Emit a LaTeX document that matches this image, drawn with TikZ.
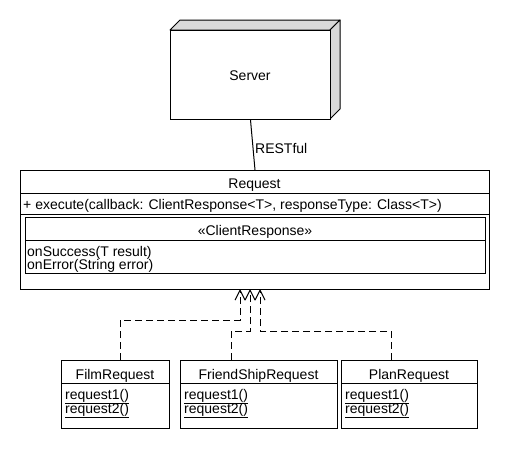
\documentclass[tikz,border=0pt]{standalone}
\usepackage{fontspec}
\setmainfont{Liberation Sans}
\usetikzlibrary{arrows.meta,calc}
\begin{document}
\begin{tikzpicture}[x=1pt,y=-1pt,
  font=\fontsize{14}{16}\selectfont,
  box/.style={draw, line width=1pt, inner sep=0pt, anchor=north west},
  sep/.style={line width=1pt},
  txt/.style={inner sep=0pt, anchor=base},
  ltxt/.style={inner sep=0pt, anchor=base west},
  shade/.style={draw, line width=1pt, fill=gray!30, line join=round},
  real/.style={dash pattern=on 7pt off 4pt, line width=1pt, -{Straight Barb[length=10pt,width=10pt,line width=1pt]}}
]
\useasboundingbox (0,0) rectangle (510,450);
% Server
\draw[shade] (170,30) -- (180,20) -- (340,20) -- (330,30) -- cycle;
\draw[shade] (330,30) -- (340,20) -- (340,109) -- (330,119) -- cycle;
\node[box, minimum width=160pt, minimum height=89pt, fill=white] (server) at (170,30) {};
\node[txt] (servert) at (250,80) {Server};
% Request
\node[box, minimum width=469pt, minimum height=119pt] (req) at (20,170) {};
\draw[sep] (20,193) -- (489,193);
\draw[sep] (20,214) -- (489,214);
\node[txt] (reqt) at (254.5,188) {Request};
\node[ltxt] (exec) at (23,209) {+ execute(callback: ClientResponse<T>, responseType: Class<T>)};
\node[box, minimum width=460pt, minimum height=56pt] (cr) at (25,217) {};
\draw[sep] (25,240) -- (485,240);
\node[txt] (crt) at (255,235) {«ClientResponse»};
\node[ltxt] (ons) at (27,256) {onSuccess(T result)};
\node[ltxt] (one) at (27,269) {onError(String error)};
% link
\draw[sep] (server.south) -- (req.north);
\node[ltxt] (rest) at (255,153) {RESTful};
% subclasses
\node[box, minimum width=108pt, minimum height=68pt] (film) at (61,360) {};
\draw[sep] (61,383) -- (169,383);
\node[txt] (filmt) at (115,379) {FilmRequest};
\node[ltxt] (f1) at (65,399) {\underline{request1()}};
\node[ltxt] (f2) at (65,413) {\underline{request2()}};
\node[box, minimum width=157pt, minimum height=68pt] (friend) at (180,360) {};
\draw[sep] (180,383) -- (337,383);
\node[txt] (friendt) at (258.5,379) {FriendShipRequest};
\node[ltxt] (g1) at (184,399) {\underline{request1()}};
\node[ltxt] (g2) at (184,413) {\underline{request2()}};
\node[box, minimum width=136pt, minimum height=68pt] (plan) at (341,360) {};
\draw[sep] (341,383) -- (477,383);
\node[txt] (plant) at (409,379) {PlanRequest};
\node[ltxt] (p1) at (345,399) {\underline{request1()}};
\node[ltxt] (p2) at (345,413) {\underline{request2()}};
% realizations
\coordinate (a1) at (240,289);
\coordinate (a2) at (250,289);
\coordinate (a3) at (260,289);
\coordinate (k1) at (120,320);
\coordinate (k2) at (231,331);
\coordinate (k3) at (391,331);
\draw[real] (film.north -| k1) -- (k1) -- (k1 -| a1) -- (a1);
\draw[real] (friend.north -| k2) -- (k2) -- (k2 -| a2) -- (a2);
\draw[real] (plan.north -| k3) -- (k3) -- (k3 -| a3) -- (a3);
\end{tikzpicture}
\end{document}
